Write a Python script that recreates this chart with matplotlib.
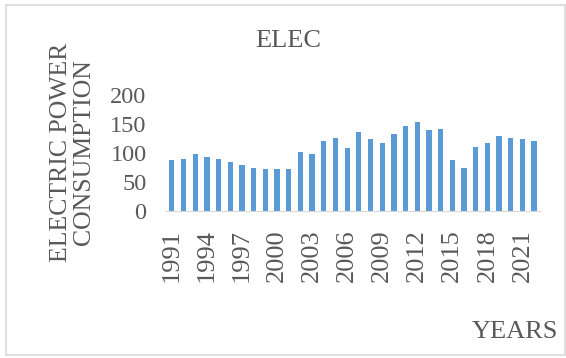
import matplotlib.pyplot as plt
from matplotlib.patches import Rectangle

# electric power consumption per year
years = list(range(1991, 2023))
elec = [88, 89, 99, 93, 90, 85, 80, 74, 73, 72, 73, 102,
        99, 121, 126, 109, 136, 124, 118, 133, 147, 153, 139, 141,
        88, 74, 110, 118, 130, 126, 124, 120]
tick_years = years[::3]

plt.rcParams['font.family'] = ['Liberation Serif', 'DejaVu Serif']
txt = '#595959'

fig = plt.figure(figsize=(5.66, 3.58), dpi=100)
ax = fig.add_axes([0.2933, 0.4106, 0.954 - 0.2933, 0.7346 - 0.4106])

pos = list(range(len(years)))
ax.bar(pos, elec, width=0.45, color='#5B9BD5')
ax.set_xlim(-0.5, len(years) - 0.5)
ax.set_ylim(0, 200)
ax.set_yticks([0, 50, 100, 150, 200])
ax.set_xticks([years.index(y) for y in tick_years])
ax.set_xticklabels([str(y) for y in tick_years], rotation=90, fontsize=19)
ax.tick_params(axis='both', length=0, colors=txt)
ax.tick_params(axis='y', pad=14, labelsize=17.5)
ax.tick_params(axis='x', pad=13)
for s in ['top', 'right', 'left']:
    ax.spines[s].set_visible(False)
ax.spines['bottom'].set_color('#D9D9D9')

fig.text(0.509, 0.885, 'ELEC', ha='center', va='center', fontsize=19, color=txt)
fig.text(0.128, 0.575, 'ELECTRIC POWER\nCONSUMPTION', ha='center', va='center',
         rotation=90, fontsize=18.5, color=txt, linespacing=1.08)
fig.text(0.91, 0.073, 'YEARS', ha='center', va='center', fontsize=19, color=txt)

# outer frame
fig.patches.append(Rectangle((6 / 566, 3 / 358), 1 - 7 / 566, 1 - 8 / 358,
                             transform=fig.transFigure, fill=False,
                             edgecolor='#D9D9D9', linewidth=1.2))

fig.savefig('out.png', dpi=100)
